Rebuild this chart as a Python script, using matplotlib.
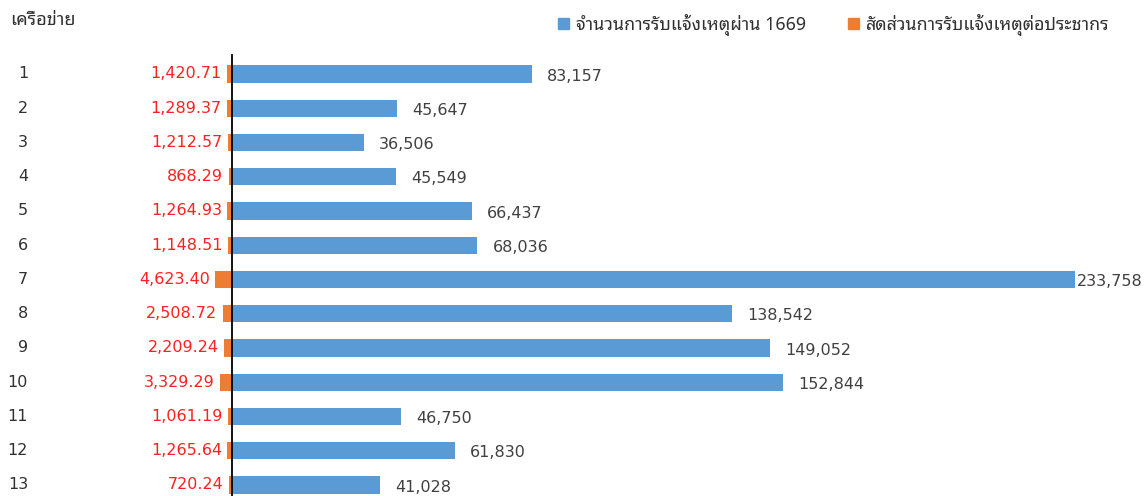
import matplotlib
matplotlib.use("Agg")
import matplotlib.pyplot as plt
from matplotlib.patches import Patch
import numpy as np

plt.rcParams['font.family'] = ['DejaVu Sans', 'Noto Sans Thai Looped']

networks = ['1', '2', '3', '4', '5', '6', '7', '8', '9', '10', '11', '12', '13']
calls_1669 = [83157, 45647, 36506, 45549, 66437, 68036, 233758,
              138542, 149052, 152844, 46750, 61830, 41028]
ratio_pop = [1420.71, 1289.37, 1212.57, 868.29, 1264.93, 1148.51, 4623.40,
             2508.72, 2209.24, 3329.29, 1061.19, 1265.64, 720.24]
label_calls = 'จำนวนการรับแจ้งเหตุผ่าน 1669'
label_ratio = 'สัดส่วนการรับแจ้งเหตุต่อประชากร'
header = 'เครือข่าย'

blue = '#5B9BD5'
orange = '#ED7D31'

W, H = 1148, 496
fig = plt.figure(figsize=(W / 100, H / 100), dpi=100)
ax = fig.add_axes([0, 0, 1, (H - 55) / H])

y = np.arange(len(networks))
ax.barh(y, calls_1669, height=0.5, color=blue)
ax.barh(y, -np.array(ratio_pop), height=0.5, color=orange)

# same scale as the picture: zero at x=232px, 233,758 at x=1075px
scale = (1075 - 232) / max(calls_1669)
ax.set_xlim(-232 / scale, (W - 232) / scale)
ax.set_ylim(len(networks) - 1 + 11 / 34.25, -19 / 34.25)

for s in ['top', 'right', 'bottom']:
    ax.spines[s].set_visible(False)
ax.spines['left'].set_position(('data', 0))
ax.spines['left'].set_color('black')
ax.spines['left'].set_linewidth(1.3)
ax.set_xticks([])
ax.set_yticks([])

fs = 11.5
thai = ['Noto Sans Thai Looped', 'DejaVu Sans']
for i in range(len(networks)):
    v = calls_1669[i]
    off = 11 if v < max(calls_1669) else 1
    ax.annotate(f'{v:,}', (v, y[i]), xytext=(off, -1.5), textcoords='offset points',
                ha='left', va='center', fontsize=fs, color='#404040')
    r = ratio_pop[i]
    ax.annotate(f'{r:,.2f}', (-r, y[i]), xytext=(-4, 0), textcoords='offset points',
                ha='right', va='center', fontsize=fs, color='#FF2020')
    ax.text(28 / W, y[i], networks[i], transform=ax.get_yaxis_transform(),
            ha='right', va='center', fontsize=fs, color='#303030')

fig.text(10 / W, 1 - 20 / H, header, ha='left', va='center', fontsize=13,
         color='#303030', family=thai)

handles = [Patch(color=blue, label=label_calls), Patch(color=orange, label=label_ratio)]
fig.legend(handles=handles, loc='center left', bbox_to_anchor=(558 / W, 1 - 25 / H),
           ncol=2, frameon=False, prop={'family': thai, 'size': 12.8},
           handlelength=0.6, handleheight=0.6, handletextpad=0.4,
           columnspacing=2.4, labelcolor='#303030', borderpad=0, borderaxespad=0)

fig.savefig('out.png')
